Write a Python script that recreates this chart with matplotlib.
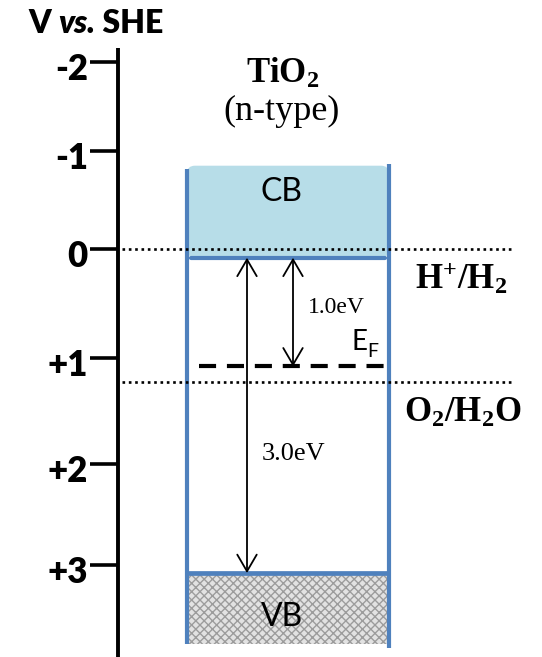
import numpy as np
import matplotlib
matplotlib.use("Agg")
import matplotlib.pyplot as plt
from matplotlib import transforms as mtransforms
from matplotlib.patches import Rectangle, FancyBboxPatch, FancyArrowPatch

# ---------------- data: potentials in V vs. SHE ----------------
tick_values = [-2, -1, 0, 1, 2, 3]
tick_labels = ["-2", "-1", "0", "+1", "+2", "+3"]

cb_top = -0.85        # upper edge of the conduction-band block
cb_edge = 0.08        # conduction-band minimum
fermi_gap = 1.0       # E_CB - E_F  (eV)
band_gap = 3.0        # band gap of TiO2 (eV)
vb_bottom = 3.78      # lower edge of the valence-band block

redox_potentials = [0.0, 1.23]
redox_labels = [r"$\mathbf{H^{+}/H_{2}}$", r"$\mathbf{O_{2}/H_{2}O}$"]

fermi_level = cb_edge + fermi_gap
vb_edge = cb_edge + band_gap

# ---------------- styling ----------------
plt.rcParams["mathtext.fontset"] = "custom"
plt.rcParams["mathtext.rm"] = "Liberation Serif"
plt.rcParams["mathtext.it"] = "Liberation Serif:italic"
plt.rcParams["mathtext.bf"] = "Liberation Serif:bold"
plt.rcParams["hatch.linewidth"] = 1.0

SANS = "Lato"
SERIF = "Liberation Serif"
BLUE = "#4f81bd"
CB_FILL = "#b7dde8"

W, H = 542, 657
fig = plt.figure(figsize=(W / 100, H / 100), dpi=100)
ax = fig.add_axes([0, 0, 1, 1])

# hand-spaced potential grid of the energy diagram (drawn height of each grid value)
_kv = np.array(tick_values, float)
_kp = np.array([62, 151, 249, 358, 464, 565], float)


def _pw(x, xs, ys):
    x = np.asarray(x, float)
    out = np.interp(x, xs, ys)
    s0 = (ys[1] - ys[0]) / (xs[1] - xs[0])
    s1 = (ys[-1] - ys[-2]) / (xs[-1] - xs[-2])
    out = np.where(x < xs[0], ys[0] + (x - xs[0]) * s0, out)
    out = np.where(x > xs[-1], ys[-1] + (x - xs[-1]) * s1, out)
    return out


def fwd(v):
    return _pw(v, _kv, _kp)


def inv(p):
    return _pw(p, _kp, _kv)


ax.set_yscale("function", functions=(fwd, inv))
ax.set_xlim(0, W)
ax.set_ylim(float(inv(H)), float(inv(0)))
ax.axis("off")

# transform for layout text: x in pixels from left, y in pixels from top
top_px = mtransforms.Affine2D().scale(1 / W, -1 / H).translate(0, 1) + fig.transFigure

# ---------------- potential axis ----------------
y_bottom = ax.get_ylim()[0]
ax.plot([118, 118], [-2.16, y_bottom], color="black", lw=2.8, solid_capstyle="butt", zorder=5)
lab_tr = mtransforms.offset_copy(ax.transData, fig=fig, y=-13, units="points")
for v, lab in zip(tick_values, tick_labels):
    ax.plot([90, 118], [v, v], color="black", lw=2.6, solid_capstyle="butt", zorder=5)
    ax.text(88, v, lab, transform=lab_tr, ha="right", va="baseline",
            fontsize=25, fontweight="heavy", family=SANS)

t1 = ax.text(28, 33, "V ", transform=top_px, fontsize=23, fontweight="heavy",
             family=SANS, va="baseline", ha="left")
t2 = ax.annotate("vs.", xy=(1, 0), xycoords=t1, va="bottom", ha="left",
                 fontsize=23, fontweight="heavy", fontstyle="italic", family=SANS)
ax.annotate(" SHE", xy=(1, 0), xycoords=t2, va="bottom", ha="left",
            fontsize=23, fontweight="heavy", family=SANS)

# ---------------- semiconductor title ----------------
ax.text(283, 83, r"$\mathbf{TiO_{2}}$", transform=top_px, ha="center", va="baseline",
        fontsize=25)
ax.text(282, 120, "(n-type)", transform=top_px, ha="center", va="baseline",
        fontsize=26, family=SERIF)

# ---------------- bands ----------------
x0, x1 = 187, 389
cb = FancyBboxPatch((x0, cb_top), x1 - x0, cb_edge - cb_top,
                    boxstyle="round,pad=0,rounding_size=8", mutation_aspect=0.01,
                    facecolor=CB_FILL, edgecolor="none", zorder=1)
ax.add_patch(cb)
ax.plot([x0 + 4, x1 - 4], [cb_edge, cb_edge], color=BLUE, lw=3.0,
        solid_capstyle="round", zorder=2)

vb = Rectangle((x0, vb_edge), x1 - x0, vb_bottom - vb_edge, facecolor="#e2e2e2",
               edgecolor="#9c9c9c", hatch="xxxx", linewidth=0, zorder=1)
ax.add_patch(vb)
ax.plot([x0, x1], [vb_edge, vb_edge], color=BLUE, lw=3.4, solid_capstyle="butt", zorder=3)

ax.plot([x0, x0], [cb_top + 0.03, vb_bottom], color=BLUE, lw=3.0, solid_capstyle="butt", zorder=3)
ax.plot([x1, x1], [cb_top - 0.02, vb_bottom + 0.04], color=BLUE, lw=3.0, solid_capstyle="butt", zorder=3)

ax.text(281, 201, "CB", transform=top_px, ha="center", va="baseline",
        fontsize=23, family=SANS, zorder=4)
ax.text(282, 626, "VB", transform=top_px, ha="center", va="baseline",
        fontsize=23, family=SANS, zorder=4)

# ---------------- redox levels ----------------
for p in redox_potentials:
    ax.plot([122, 514], [p, p], color="black", lw=1.9, linestyle=(0, (1, 1.4)), zorder=6)
ax.text(415, 289, redox_labels[0], transform=top_px, ha="left", va="baseline", fontsize=25)
ax.text(404, 422, redox_labels[1], transform=top_px, ha="left", va="baseline", fontsize=25)

# ---------------- Fermi level ----------------
ax.plot([199, 384], [fermi_level, fermi_level], color="black", lw=3.0,
        linestyle=(0, (4.1, 2.6)), zorder=4)
ax.text(351, 350, "E", transform=top_px, ha="left", va="baseline",
        fontsize=20, family=SANS)
ax.text(367, 357, "F", transform=top_px, ha="left", va="baseline",
        fontsize=14, family=SANS)

# ---------------- energy gaps ----------------
astyle = "<->,head_length=0.6,head_width=0.35"
ax.add_patch(FancyArrowPatch((293, cb_edge), (293, fermi_level), arrowstyle=astyle,
                             mutation_scale=20, lw=1.3, color="black",
                             shrinkA=0, shrinkB=0, zorder=5))
ax.add_patch(FancyArrowPatch((247, cb_edge), (247, vb_edge), arrowstyle=astyle,
                             mutation_scale=20, lw=1.3, color="black",
                             shrinkA=0, shrinkB=0, zorder=5))
ax.text(308, 313, f"{fermi_gap:.1f}eV", transform=top_px, ha="left", va="baseline",
        fontsize=17, family=SERIF)
ax.text(262, 460, f"{band_gap:.1f}eV", transform=top_px, ha="left", va="baseline",
        fontsize=19, family=SERIF)

fig.savefig("out.png", dpi=100, facecolor="white")
